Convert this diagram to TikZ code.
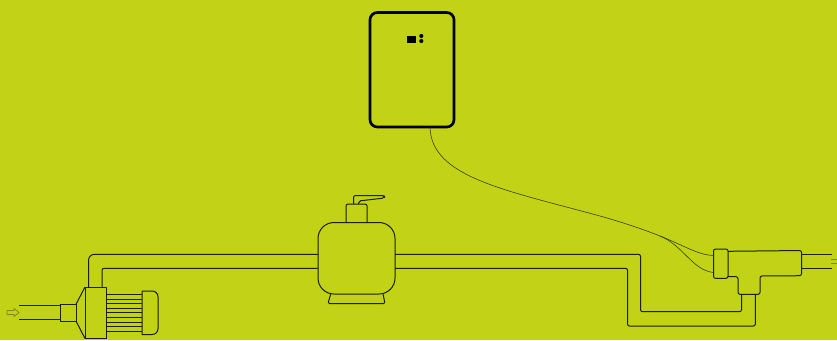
\documentclass[tikz,border=0pt]{standalone}
\definecolor{bgc}{HTML}{C2D216}
\definecolor{ink}{HTML}{1A1F00}
\definecolor{oliv}{HTML}{7F8A10}
\tikzset{
  pline/.style={draw=ink,line width=0.75pt,line join=round},
  thinline/.style={draw=ink!85!bgc,line width=0.42pt},
  hollow/.style={draw=oliv,line width=0.55pt,line join=miter},
}
\begin{document}
\begin{tikzpicture}[x=0.75pt,y=-0.75pt]
\path[use as bounding box,fill=bgc] (0,0) rectangle (837,340);
% controller
\draw[draw=black,line width=2pt,rounded corners=5.5pt] (370,12.5) rectangle (454,127);
\fill[black] (407,36) rectangle (416,43);
\fill[black] (421.3,36) circle (1.55pt) (421.3,41) circle (1.55pt);
% cable
\coordinate (cabA) at (430,127);
\coordinate (cabB) at (660,236);
\coordinate (cabU) at (713.5,255.5);
\coordinate (cabL) at (713.5,272.5);
\draw[thinline] (cabA) .. controls (431,177) and (505,190) .. (600,216) .. controls (625,223) and (645,230) .. (cabB);
\draw[thinline] (cabB) .. controls (685,246) and (698,255) .. (cabU);
\draw[thinline] (cabB) .. controls (684,246) and (692,270) .. (cabL);
% inlet and pump
\draw[hollow] (7,310.5) -- (14,310.5) -- (14,308.5) -- (19,312.5) -- (14,316.5) -- (14,314.5) -- (7,314.5) -- cycle;
\draw[pline] (19,305.3) -- (60,305.3) (19,319.3) -- (60,319.3);
\draw[pline] (60,304.3) rectangle (76,321);
\draw[pline] (76,304.3) -- (85,287) (76,321) -- (85,338.5);
\draw[pline] (85,287) rectangle (106,338.5);
\foreach \yy in {294.3,299.3,303.7,308.3,312.7,317.7,322.3,326.7,331.3}
  \draw[pline] (106,\yy) -- (142,\yy);
\draw[pline] (142,291) -- (152,291) .. controls (155.5,291) and (158,293.5) .. (158,297) -- (158,328.5) .. controls (158,332) and (155.5,334.5) .. (152,334.5) -- (142,334.5) -- cycle;
% left pipes
\draw[pline,rounded corners=4.5pt] (88.5,287) -- (88.5,254.3) -- (318,254.3);
\draw[pline,rounded corners=1.5pt] (102,287) -- (102,268.3) -- (318,268.3);
% filter
\draw[pline,rounded corners=12pt] (318,222.5) rectangle (395,294);
\draw[pline,rounded corners=1pt] (330.7,294) -- (328,303.5) -- (385,303.5) -- (383,294);
\draw[pline,rounded corners=1.5pt] (346,222.5) -- (346,204) -- (367,204) -- (367,222.5);
\draw[pline,rounded corners=1.5pt] (353.5,204) -- (353.5,195.5) -- (384.5,195.5) -- (384.5,198) -- (358.5,201) -- (358.5,204);
% right pipes
\draw[pline,rounded corners=1.5pt] (395,254.3) -- (640.5,254.3) -- (640.5,311.7) -- (741.5,311.7) -- (741.5,294.3);
\draw[pline,rounded corners=1.5pt] (395,268.3) -- (627.5,268.3) -- (627.5,326) -- (755.3,326) -- (755.3,294.3);
% tee fitting
\draw[pline,rounded corners=1.5pt] (713.5,249) rectangle (728,278.3);
\draw[pline,rounded corners=1.5pt] (728,251.3) -- (801.5,250.5) -- (801.5,275.7) -- (760,276) -- (760,294.3) -- (738,294.3) -- (738,276.7) -- (728,276.7);
\draw[pline] (801.5,254.5) -- (832,254.5) (801.5,268.5) -- (832,268.5);
% outlet arrow, cut by the edge
\draw[hollow] (837,259.7) -- (831,259.7) (837,263.3) -- (831,263.3);
\end{tikzpicture}
\end{document}
